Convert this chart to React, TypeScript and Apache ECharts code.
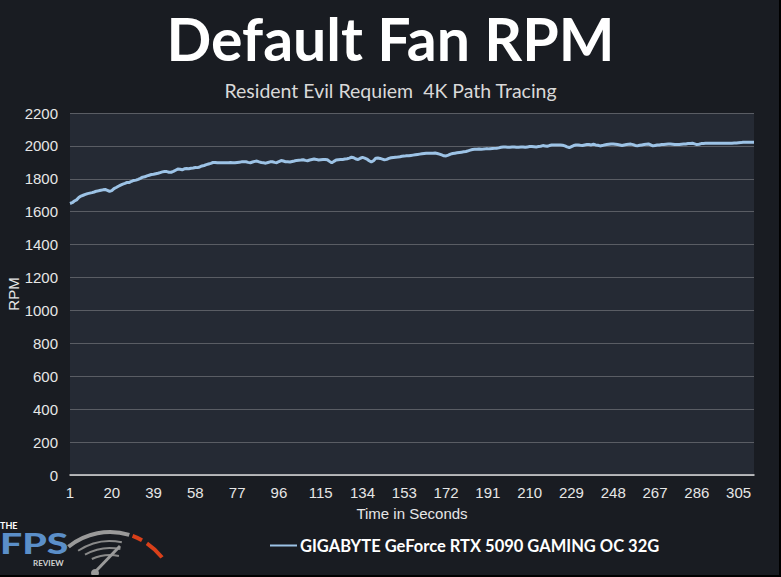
import React, { useEffect, useRef } from "react";
import * as echarts from "echarts";

const TITLE = "Default Fan RPM";
const SUBTITLE = "Resident Evil Requiem  4K Path Tracing";
const SERIES_NAME = "GIGABYTE GeForce RTX 5090 GAMING OC 32G";
const X_NAME = "Time in Seconds";
const Y_NAME = "RPM";

const Y_MIN = 0;
const Y_MAX = 2200;
const Y_STEP = 200;
const X_LABEL_EVERY = 19;

// Fan speed (RPM), one reading per second, t = 1..312
const rpm: number[] = [
  1650, 1655, 1665, 1672, 1686, 1695, 1700, 1705, 1710, 1713,
  1716, 1720, 1725, 1727, 1730, 1733, 1735, 1730, 1724, 1728,
  1740, 1747, 1755, 1762, 1768, 1772, 1778, 1778, 1785, 1790,
  1792, 1797, 1803, 1810, 1812, 1818, 1822, 1826, 1828, 1831,
  1834, 1838, 1842, 1845, 1844, 1840, 1840, 1845, 1852, 1859,
  1858, 1855, 1861, 1862, 1861, 1864, 1866, 1869, 1868, 1872,
  1878, 1881, 1886, 1890, 1894, 1899, 1899, 1897, 1897, 1897,
  1898, 1897, 1898, 1899, 1898, 1897, 1899, 1901, 1903, 1904,
  1904, 1900, 1898, 1902, 1906, 1908, 1903, 1899, 1897, 1895,
  1899, 1903, 1904, 1900, 1898, 1905, 1911, 1908, 1904, 1903,
  1902, 1905, 1908, 1912, 1913, 1914, 1916, 1912, 1910, 1914,
  1917, 1920, 1918, 1914, 1916, 1917, 1918, 1916, 1906, 1897,
  1906, 1914, 1916, 1917, 1918, 1920, 1922, 1926, 1931, 1928,
  1920, 1917, 1925, 1930, 1926, 1920, 1910, 1903, 1910, 1925,
  1926, 1924, 1920, 1915, 1918, 1924, 1928, 1930, 1931, 1932,
  1934, 1937, 1938, 1940, 1940, 1942, 1944, 1946, 1948, 1950,
  1952, 1954, 1956, 1956, 1955, 1956, 1957, 1954, 1950, 1945,
  1940, 1939, 1944, 1950, 1954, 1956, 1958, 1960, 1962, 1964,
  1966, 1970, 1974, 1978, 1980, 1980, 1981, 1980, 1981, 1982,
  1982, 1983, 1984, 1985, 1986, 1988, 1992, 1994, 1993, 1992,
  1992, 1993, 1994, 1992, 1992, 1993, 1994, 1992, 1994, 1996,
  1996, 1995, 1994, 1996, 1998, 2002, 2000, 1998, 2002, 2005,
  2006, 2006, 2006, 2005, 2004, 2000, 1994, 1990, 1996, 2002,
  2005, 2006, 2004, 2003, 2006, 2008, 2008, 2006, 2010, 2006,
  2004, 2000, 2002, 2006, 2008, 2010, 2012, 2012, 2010, 2008,
  2006, 2003, 2006, 2008, 2010, 2011, 2008, 2003, 2000, 2004,
  2006, 2008, 2010, 2012, 2006, 2000, 2003, 2006, 2006, 2008,
  2009, 2010, 2011, 2012, 2010, 2008, 2008, 2009, 2010, 2011,
  2012, 2014, 2015, 2016, 2012, 2008, 2010, 2014, 2015, 2016,
  2016, 2016, 2016, 2016, 2016, 2016, 2016, 2016, 2016, 2016,
  2016, 2016, 2017, 2018, 2019, 2020, 2022, 2022, 2022, 2022,
  2022, 2022,
];

const seconds: string[] = rpm.map((_, i) => String(i + 1));

const deg = (d: number) => (d * Math.PI) / 180;

export default function App() {
  const ref = useRef<HTMLDivElement>(null);

  useEffect(() => {
    if (!ref.current) return;
    const chart = echarts.init(ref.current, null, { renderer: "svg" });
    const axisFont = "Liberation Sans";
    const cx = 110;
    const cy = 598;
    chart.setOption({
      animation: false,
      backgroundColor: "#191c22",
      title: [
        {
          text: TITLE,
          left: "center",
          top: 4,
          textStyle: {
            color: "#ffffff",
            fontSize: 59,
            fontWeight: 700,
            fontFamily: "Lato",
          },
        },
        {
          text: SUBTITLE,
          left: "center",
          top: 75,
          textStyle: {
            color: "#d9d9d9",
            fontSize: 19.5,
            fontWeight: 400,
            fontFamily: "Lato",
          },
        },
      ],
      grid: {
        left: 70,
        right: 27,
        top: 113,
        bottom: 102,
        show: true,
        backgroundColor: "#252a34",
        borderWidth: 0,
        containLabel: false,
        outerBoundsMode: "none",
      },
      legend: {
        bottom: 18,
        left: 265,
        itemWidth: 27,
        itemHeight: 10,
        itemGap: 4,
        icon: "path://M0,4 L27,4 L27,6 L0,6 Z",
        data: [SERIES_NAME],
        textStyle: {
          color: "#ffffff",
          fontSize: 16.5,
          fontWeight: 700,
          fontFamily: "Lato",
          padding: [0, 0, 0, -2],
        },
      },
      xAxis: {
        type: "category",
        data: seconds,
        boundaryGap: false,
        name: X_NAME,
        nameLocation: "middle",
        nameGap: 31,
        nameTextStyle: { color: "#e6e6e6", fontSize: 15, fontFamily: axisFont },
        axisLine: { show: true, lineStyle: { color: "#d9d9d9", width: 1.5 } },
        axisTick: { show: false },
        axisLabel: {
          interval: X_LABEL_EVERY - 1,
          color: "#e6e6e6",
          fontSize: 15,
          fontFamily: axisFont,
          margin: 10,
        },
        splitLine: { show: false },
      },
      yAxis: {
        type: "value",
        min: Y_MIN,
        max: Y_MAX,
        interval: Y_STEP,
        name: Y_NAME,
        nameLocation: "middle",
        nameGap: 49,
        nameMoveOverlap: false,
        nameTextStyle: { color: "#e6e6e6", fontSize: 15, fontFamily: axisFont },
        axisLine: { show: false },
        axisTick: { show: false },
        axisLabel: {
          color: "#e6e6e6",
          fontSize: 15,
          fontFamily: axisFont,
          margin: 12,
          formatter: (v: number) => String(v),
        },
        splitLine: { show: true, lineStyle: { color: "#5a5d64", width: 1 } },
      },
      series: [
        {
          name: SERIES_NAME,
          type: "line",
          data: rpm,
          symbol: "none",
          showSymbol: false,
          lineStyle: { color: "#9dc3e6", width: 3 },
          itemStyle: { color: "#9dc3e6" },
        },
      ],
      graphic: [
        {
          type: "text",
          x: 0,
          y: 521,
          style: {
            text: "THE",
            fill: "#ffffff",
            font: "700 9px Lato",
            lineHeight: 9,
          },
        },
        {
          type: "text",
          x: 0,
          y: 531,
          scaleX: 1.4,
          style: {
            text: "FPS",
            fill: "#5b8fc9",
            font: "900 28px Lato",
            lineHeight: 24,
          },
        },
        {
          type: "text",
          x: 33,
          y: 559,
          style: {
            text: "REVIEW",
            fill: "#d0d0d0",
            font: "700 8px Lato",
            lineHeight: 8,
          },
        },
        {
          type: "arc",
          shape: { cx, cy, r: 66, startAngle: deg(231), endAngle: deg(287) },
          style: { stroke: "#9a9a9a", lineWidth: 4, fill: "none" },
        },
        {
          type: "arc",
          shape: { cx, cy, r: 66, startAngle: deg(290), endAngle: deg(299) },
          style: { stroke: "#d9401a", lineWidth: 4, fill: "none" },
        },
        {
          type: "arc",
          shape: { cx, cy, r: 66, startAngle: deg(304), endAngle: deg(322) },
          style: { stroke: "#d9401a", lineWidth: 4, fill: "none" },
        },
        {
          type: "arc",
          shape: { cx, cy, r: 57, startAngle: deg(236), endAngle: deg(282) },
          style: { stroke: "#8a8a8a", lineWidth: 2, fill: "none" },
        },
        {
          type: "arc",
          shape: { cx, cy, r: 50, startAngle: deg(240), endAngle: deg(282) },
          style: { stroke: "#8a8a8a", lineWidth: 2, fill: "none" },
        },
        {
          type: "arc",
          shape: { cx, cy, r: 43, startAngle: deg(245), endAngle: deg(282) },
          style: { stroke: "#8a8a8a", lineWidth: 2, fill: "none" },
        },
        {
          type: "line",
          shape: { x1: 95, y1: 572, x2: 120, y2: 546 },
          style: { stroke: "#9a9a9a", lineWidth: 3 },
        },
        {
          type: "circle",
          shape: { cx: 95, cy: 573, r: 4 },
          style: { fill: "#9a9a9a" },
        },
        {
          type: "rect",
          shape: { x: 779, y: 0, width: 2, height: 577 },
          style: { fill: "#000000" },
        },
        {
          type: "rect",
          shape: { x: 0, y: 575, width: 781, height: 2 },
          style: { fill: "#000000" },
        },
      ],
    });
    return () => chart.dispose();
  }, []);

  return (
    <div
      ref={ref}
      style={{ position: "fixed", left: 0, top: 0, width: 781, height: 577 }}
    />
  );
}
